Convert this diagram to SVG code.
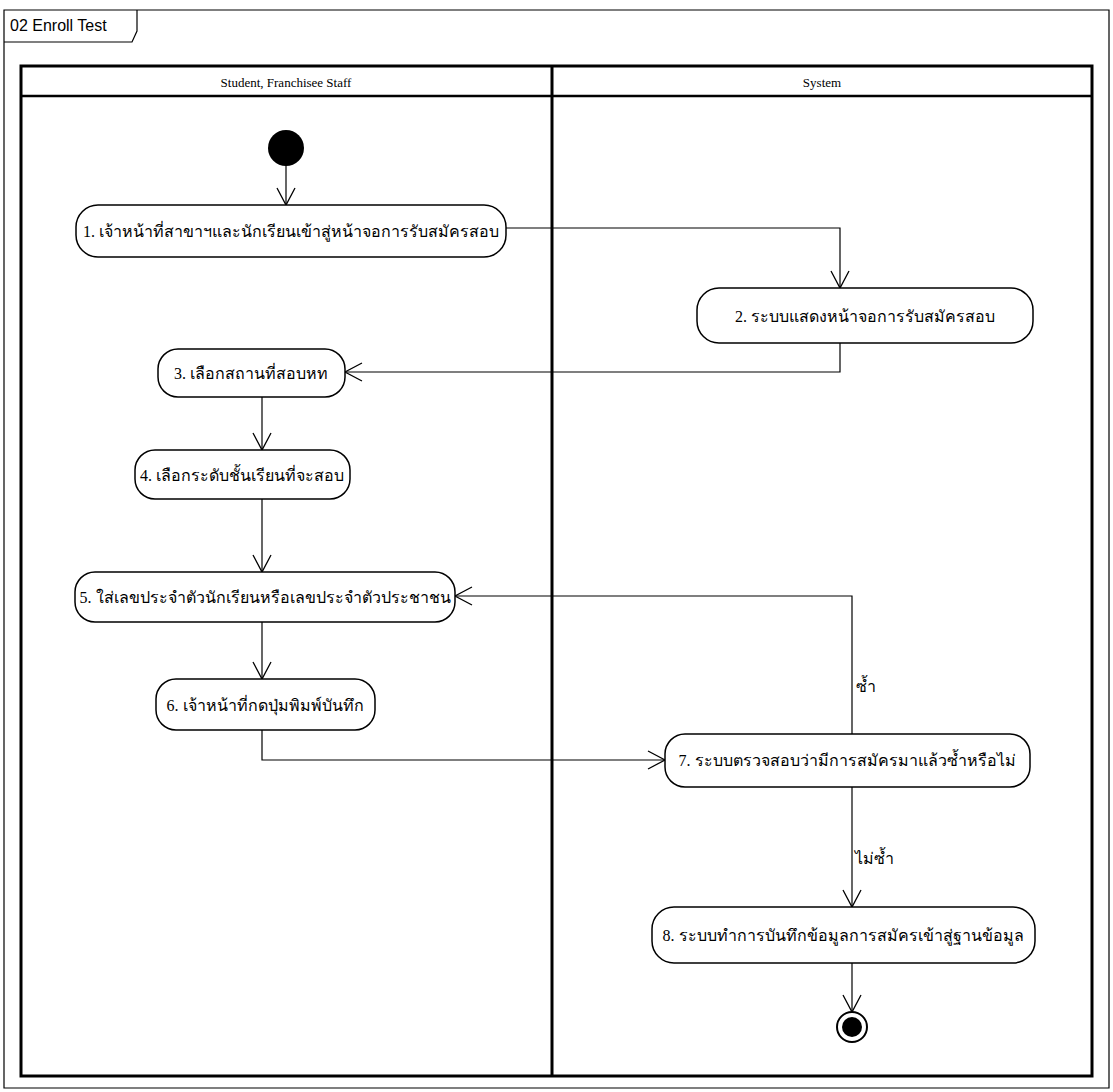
<svg xmlns="http://www.w3.org/2000/svg" width="1113" height="1092" viewBox="0 0 1113 1092">
<style>
.frame{fill:none;stroke:#000;stroke-width:1.2}
.lane{fill:none;stroke:#000;stroke-width:3}
.act{fill:#fff;stroke:#000;stroke-width:1.5}
.edge{fill:none;stroke:#000;stroke-width:1.2}
.t{font-family:"Liberation Serif","Noto Sans","DejaVu Sans",serif;font-size:16px;fill:#000;text-anchor:middle;dominant-baseline:central}
.h{font-family:"Liberation Serif","Times New Roman",serif;font-size:13px;fill:#000;text-anchor:middle;dominant-baseline:central}
.title{font-family:"Liberation Sans",Arial,sans-serif;font-size:16px;fill:#000}
</style>
<defs>
<marker id="arr" markerUnits="userSpaceOnUse" markerWidth="22" markerHeight="22" refX="18" refY="10" orient="auto">
<path d="M1,1 L18,10 L1,19" fill="none" stroke="#000" stroke-width="1.3"/>
</marker>
</defs>
<rect width="1113" height="1092" fill="#fff"/>
<g id="frame">
<path class="frame" d="M4,10 H1109 V1088 H4 Z"/>
<path class="frame" d="M4,42 H132 L137,31 V10"/>
<text class="title" x="10" y="31">02 Enroll Test</text>
</g>
<g id="lanes">
<rect class="lane" x="21" y="66" width="1071" height="1010"/>
<line x1="21" y1="96" x2="1092" y2="96" stroke="#000" stroke-width="2.5"/>
<line x1="552" y1="66" x2="552" y2="1076" stroke="#000" stroke-width="3"/>
<text class="h" x="286" y="82">Student, Franchisee Staff</text>
<text class="h" x="822" y="82">System</text>
</g>
<g id="connectors">
<path class="edge" d="M286,165 V205" marker-end="url(#arr)"/>
<path class="edge" d="M506,228 H840 V288" marker-end="url(#arr)"/>
<path class="edge" d="M840,343 V372 H345" marker-end="url(#arr)"/>
<path class="edge" d="M262,397 V450" marker-end="url(#arr)"/>
<path class="edge" d="M262,499 V572" marker-end="url(#arr)"/>
<path class="edge" d="M262,622 V679" marker-end="url(#arr)"/>
<path class="edge" d="M262,730 V760 H665" marker-end="url(#arr)"/>
<path class="edge" d="M852,734 V596 H455" marker-end="url(#arr)"/>
<path class="edge" d="M852,787 V907" marker-end="url(#arr)"/>
<path class="edge" d="M852,963 V1012" marker-end="url(#arr)"/>
<text class="t" x="866" y="686">ซ้ำ</text>
<text class="t" x="874" y="858">ไม่ซ้ำ</text>
</g>
<g id="start"><circle cx="286" cy="148" r="18" fill="#000"/></g>
<g id="n1"><rect class="act" x="76" y="205" width="430" height="52" rx="22"/><text class="t" x="291" y="231">1. เจ้าหน้าที่สาขาฯและนักเรียนเข้าสู่หน้าจอการรับสมัครสอบ</text></g>
<g id="n2"><rect class="act" x="697" y="288" width="336" height="55" rx="22"/><text class="t" x="865" y="316">2. ระบบแสดงหน้าจอการรับสมัครสอบ</text></g>
<g id="n3"><rect class="act" x="158" y="349" width="187" height="48" rx="20"/><text class="t" x="251" y="373">3. เลือกสถานที่สอบหท</text></g>
<g id="n4"><rect class="act" x="135" y="450" width="215" height="49" rx="20"/><text class="t" x="242" y="475">4. เลือกระดับชั้นเรียนที่จะสอบ</text></g>
<g id="n5"><rect class="act" x="75" y="572" width="380" height="50" rx="20"/><text class="t" x="265" y="597">5. ใส่เลขประจำตัวนักเรียนหรือเลขประจำตัวประชาชน</text></g>
<g id="n6"><rect class="act" x="156" y="679" width="219" height="51" rx="20"/><text class="t" x="265" y="705">6. เจ้าหน้าที่กดปุ่มพิมพ์บันทึก</text></g>
<g id="n7"><rect class="act" x="665" y="734" width="365" height="53" rx="20"/><text class="t" x="847" y="760">7. ระบบตรวจสอบว่ามีการสมัครมาแล้วซ้ำหรือไม่</text></g>
<g id="n8"><rect class="act" x="652" y="907" width="383" height="56" rx="22"/><text class="t" x="843" y="935">8. ระบบทำการบันทึกข้อมูลการสมัครเข้าสู่ฐานข้อมูล</text></g>
<g id="end"><circle cx="852" cy="1027" r="15" fill="#fff" stroke="#000" stroke-width="2"/><circle cx="852" cy="1027" r="10" fill="#000"/></g>
</svg>
